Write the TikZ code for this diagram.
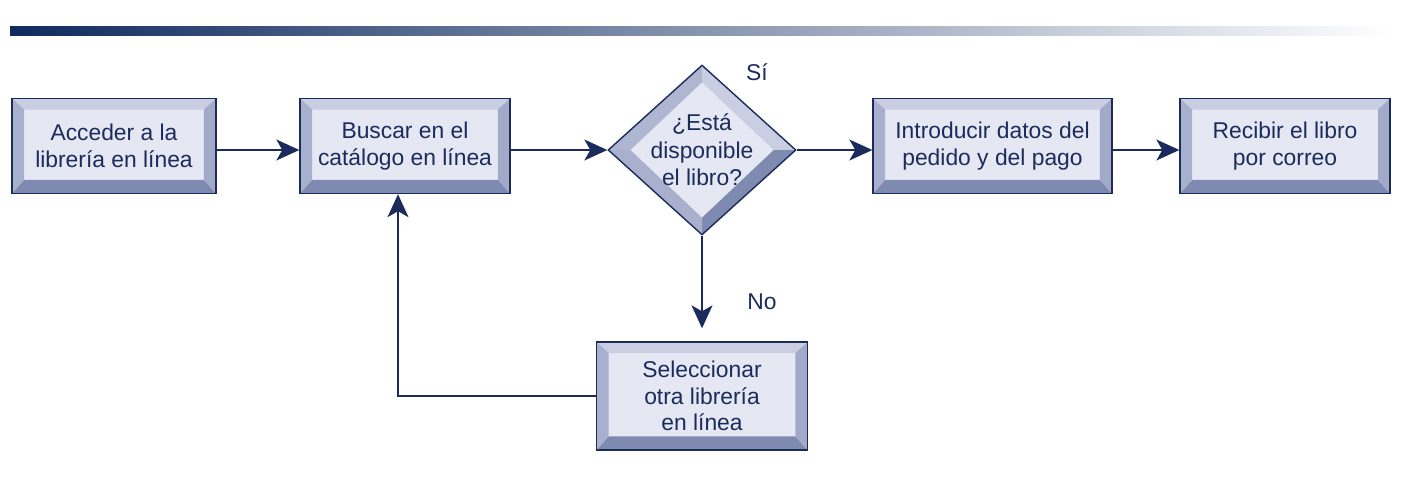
\documentclass[tikz,border=0pt]{standalone}
\usepackage{fontspec}
\setmainfont{Liberation Sans}
\usetikzlibrary{arrows.meta,shapes.geometric,calc}
\definecolor{navy}{HTML}{1B2C5C}
\definecolor{barnavy}{HTML}{0F2A5F}
\definecolor{bevface}{HTML}{E5E7F2}
\definecolor{bevtop}{HTML}{C9CEE2}
\definecolor{bevleft}{HTML}{A9B0CD}
\definecolor{bevright}{HTML}{A3AAC9}
\definecolor{bevbot}{HTML}{7F8AB1}
\tikzset{
  bevelbox/.style={rectangle, draw=navy, line width=0.8pt, fill=bevface, text=navy,
    align=center, inner sep=0pt, minimum height=1.9cm,
    font=\fontsize{13}{15}\selectfont,
    path picture={
      \path (path picture bounding box.north west) coordinate (bnw)
            (path picture bounding box.north east) coordinate (bne)
            (path picture bounding box.south west) coordinate (bsw)
            (path picture bounding box.south east) coordinate (bse);
      \fill[bevtop] (bnw) -- (bne) -- ([shift={(-0.24cm,-0.22cm)}]bne) -- ([shift={(0.24cm,-0.22cm)}]bnw) -- cycle;
      \fill[bevbot] (bsw) -- (bse) -- ([shift={(-0.24cm,0.27cm)}]bse) -- ([shift={(0.24cm,0.27cm)}]bsw) -- cycle;
      \fill[bevleft] (bnw) -- (bsw) -- ([shift={(0.24cm,0.27cm)}]bsw) -- ([shift={(0.24cm,-0.22cm)}]bnw) -- cycle;
      \fill[bevright] (bne) -- (bse) -- ([shift={(-0.24cm,0.27cm)}]bse) -- ([shift={(-0.24cm,-0.22cm)}]bne) -- cycle;
    }},
  decision/.style={diamond, draw=navy, line width=0.8pt, fill=bevface, text=navy,
    align=center, inner sep=-6pt, minimum width=3.76cm, minimum height=3.4cm,
    font=\fontsize{13}{15.6}\selectfont,
    path picture={
      \path (path picture bounding box.north) coordinate (dn)
            (path picture bounding box.south) coordinate (ds)
            (path picture bounding box.west) coordinate (dw)
            (path picture bounding box.east) coordinate (de);
      \fill[bevleft!80!bevtop] (dw) -- (dn) -- ([yshift=-0.34cm]dn) -- ([xshift=0.44cm]dw) -- cycle;
      \fill[bevtop] (dn) -- (de) -- ([xshift=-0.44cm]de) -- ([yshift=-0.34cm]dn) -- cycle;
      \fill[bevbot] (de) -- (ds) -- ([yshift=0.34cm]ds) -- ([xshift=-0.44cm]de) -- cycle;
      \fill[bevleft] (ds) -- (dw) -- ([xshift=0.44cm]dw) -- ([yshift=0.34cm]ds) -- cycle;
    }},
  flow/.style={draw=navy, line width=0.8pt, -{Stealth[length=0.46cm,width=0.42cm,inset=0.12cm]}},
  tag/.style={text=navy, font=\fontsize{13}{15}\selectfont}
}
\begin{document}
\begin{tikzpicture}[x=0.02cm,y=-0.02cm]
            \useasboundingbox (0,0) rectangle (1402,480);
            \shade[left color=barnavy, right color=white] (10,26) rectangle (1392,35);
            \node[bevelbox, minimum width=4.08cm] (acceder) at (114,146) {Acceder a la\\librería en línea};
            \node[bevelbox, minimum width=4.2cm] (buscar) at (405,146) {Buscar en el\\catálogo en línea};
            \node[decision] (check) at (702,150) {¿Está\\disponible\\el libro?};
            \node[bevelbox, minimum width=4.78cm] (introducir) at (992.5,146) {Introducir datos del\\pedido y del pago};
            \node[bevelbox, minimum width=4.2cm] (recibir) at (1285,146) {Recibir el libro\\por correo};
            \node[bevelbox, minimum width=4.22cm, minimum height=2.16cm] (otra) at (702,396) {Seleccionar\\otra librería\\en línea};
            \node[tag] (si) at (757,72) {Sí};
            \node[tag] (no) at (762,302) {No};
            \draw[flow]  (acceder.east |- check) -- (buscar.west |- check);
            \draw[flow]  (buscar.east |- check) -- (check);
            \draw[flow]  (check) -- (introducir.west |- check);
            \draw[flow]  (introducir.east |- check) -- (recibir.west |- check);
            \draw[flow, shorten >=0.26cm]  (check.south) -- (check.south |- otra.north);
            \draw[flow]  (otra.west) -| ([xshift=-0.14cm]buscar.south);
        \end{tikzpicture}
\end{document}
